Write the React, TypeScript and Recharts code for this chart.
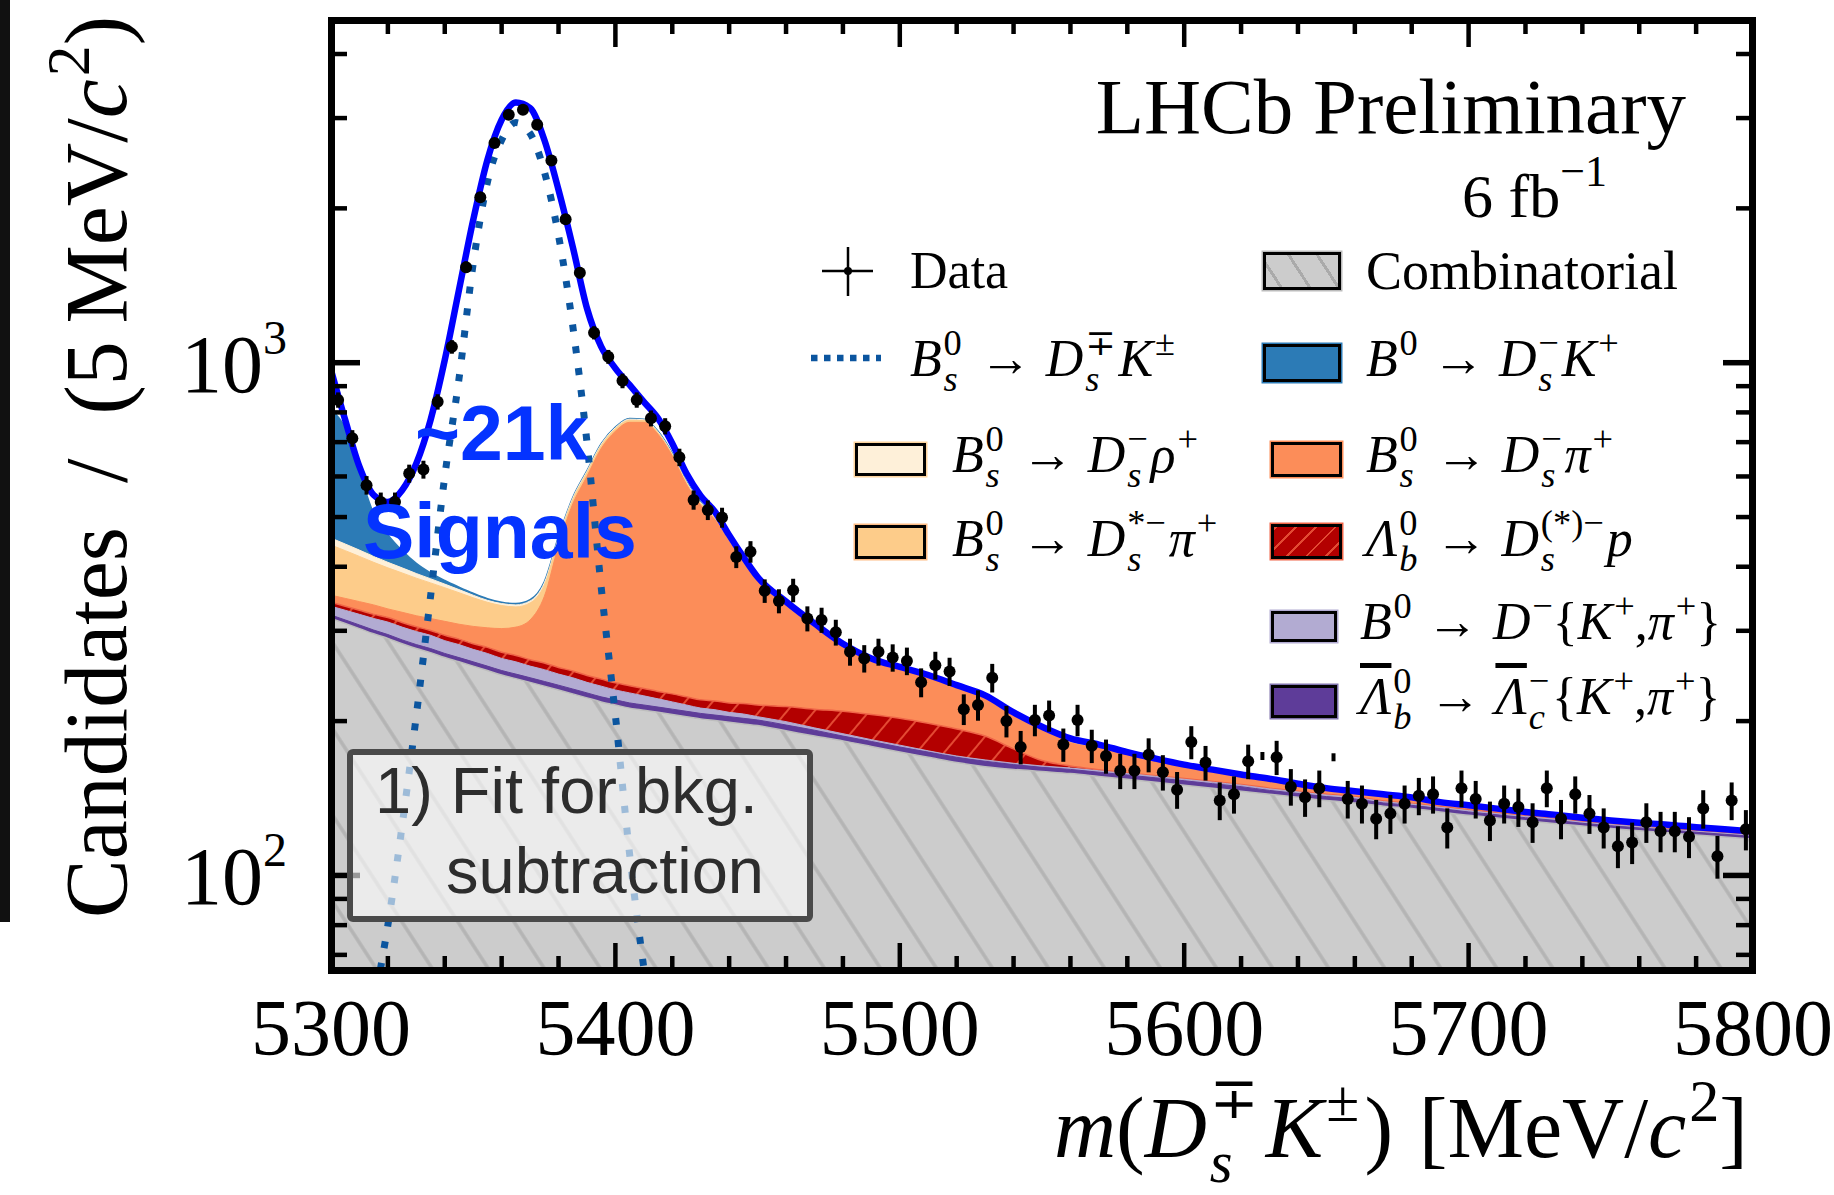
import React from "react";
import { ComposedChart, Area, Line, Scatter, ErrorBar, XAxis, YAxis } from "recharts";

const W = 1834;
const H = 1195;
const PLOT = { left: 331, right: 1752, top: 20, bottom: 970 };
const SERIF = '"Liberation Serif", "DejaVu Serif", serif';
const SANS = '"Liberation Sans", Arial, sans-serif';

// axes
const xMajorTicks = [5300, 5400, 5500, 5600, 5700, 5800];
const xMinorTicks = [5320, 5340, 5360, 5380, 5420, 5440, 5460, 5480, 5520, 5540, 5560, 5580, 5620, 5640, 5660, 5680, 5720, 5740, 5760, 5780];
const yMajorTicks = [100, 1000];
const yMajorExponents = ["2", "3"];
const yMinorTicks = [70, 80, 90, 200, 300, 400, 500, 600, 700, 800, 900, 2000, 3000, 4000];
const yDomain = [65.4, 4660];

// fit model grid (MeV/c^2)
const massGrid = [
  5300, 5305, 5310, 5315, 5320, 5325, 5330, 5335, 5340, 5345, 5350, 5355, 5360, 5365, 5370, 5375,
  5380, 5385, 5390, 5395, 5400, 5405, 5410, 5415, 5420, 5425, 5430, 5435, 5440, 5445, 5450,
  5460, 5470, 5480, 5490, 5500, 5510, 5520, 5530, 5540, 5550, 5560, 5570, 5580, 5590, 5600, 5610,
  5620, 5630, 5640, 5650, 5660, 5670, 5680, 5690, 5700, 5710, 5720, 5730, 5740, 5750, 5760, 5770,
  5780, 5790, 5800,
];

// background components, bottom of the stack first
const combinatorial = [
  317, 310, 303, 296, 290, 283, 277, 272, 266, 261, 256, 251, 246, 242, 238, 234, 230, 226, 222, 218,
  215, 212, 210, 208, 206, 204, 202, 200.5, 199, 197.5, 196,
  191.5, 187, 183, 178.5, 174, 170, 166, 163, 161, 159.5,
  158, 156, 154, 152, 150, 148, 146, 144, 142, 140, 138.5, 136.5, 135, 133, 131, 129.5, 127.8, 126.3,
  124.8, 123.4, 122.2, 121.1, 119.9, 118.8, 117.7,
];
const lbToLcKpi = [
  5, 5, 5, 5, 5, 5, 5, 5, 5, 5, 5, 5, 5, 5, 5, 5, 5, 5, 5, 5, 5, 5, 5, 5, 5, 5, 5, 5, 5, 5, 5,
  5, 5, 4, 4, 4, 4, 4, 4, 3.5, 3,
  3, 3, 3, 3, 3, 3, 3, 2.5, 2.5, 2.5, 2.5, 2, 2, 2, 2, 1.8, 1.8, 1.8, 1.6, 1.6, 1.6, 1.5, 1.5, 1.5, 1.5,
];
const b0ToDKpi = [
  13, 14, 15, 16, 17, 17, 17, 17, 16, 16, 15, 15, 14, 14, 13, 13, 12, 12, 11, 11, 10, 10, 9, 8, 7, 6,
  5, 5, 4, 4, 3,
  3, 2, 2, 1.5, 1.5, 1, 1, 1, 1, 1,
  1, 1, 1, 1, 1, 1, 1, 1, 1, 1, 1, 0.8, 0.8, 0.8, 0.8, 0.7, 0.7, 0.7, 0.6, 0.6, 0.6, 0.5, 0.5, 0.5, 0.5,
];
const lbToDsP = [
  6, 6, 6, 6, 6.5, 6.5, 6.5, 6.5, 7, 7, 7, 7.5, 7.5, 7.5, 7.5, 7.5, 7.5, 7.5, 7.5, 7.5, 7.5, 7.5, 7.5,
  7.5, 8, 8, 8, 8.5, 9, 10, 11,
  14, 17, 20, 22, 23, 23, 22, 19, 11, 4,
  1.5, 0.8, 0.5, 0.5, 0.5, 0.5, 0.5, 0.5, 0.5, 0.5, 0.5, 0.4, 0.4, 0.4, 0.4, 0.3, 0.3, 0.3, 0.3, 0.3,
  0.3, 0.3, 0.3, 0.3, 0.3,
];
const bsToDsPi = [
  11, 12, 13, 14, 12.5, 14.5, 15.5, 16.5, 19, 20, 23, 25.5, 30.5, 36.5, 51.5, 90.5, 185.5, 279.5,
  354.5, 438.5, 497.5, 530.5, 533.5, 496.5, 432, 356, 307, 275, 230, 189.5, 159,
  122, 94, 69.5, 55.5, 49.5, 45.2, 39.5, 35.3, 29.5, 25.7,
  18, 16.5, 13.3, 10.8, 8.3, 6.8, 5.6, 5.2, 3.9, 3.0, 2.5, 3.4, 2.9, 1.9, 1.9, 1.9, 1.6, 1.5, 1.5,
  1.3, 1.2, 1.4, 1.2, 1.1, 1.0,
];
const bsToDsStarPi = [
  89, 83, 77, 71, 67, 63, 59, 55, 51, 47, 42, 37, 33, 29, 25, 18, 12, 10, 10, 9, 8, 7, 6, 5, 4, 4, 4,
  3.5, 3, 2.5, 2,
  2, 2, 1.8, 1.5, 1.2, 1.1, 0.9, 0.7, 0.6, 0.4,
  0.3, 0.3, 0.3, 0.3, 0.3, 0.3, 0.3, 0.3, 0.3, 0.3, 0.3, 0.3, 0.3, 0.3, 0.3, 0.3, 0.3, 0.3, 0.3, 0.3,
  0.3, 0.3, 0.3, 0.3, 0.3,
];
const bsToDsRho = [
  14, 13, 12, 11, 10, 9, 8, 7, 6, 5, 4, 3, 3, 3, 3, 4, 4, 4, 4, 4, 4, 4, 3, 3, 2, 2, 2, 1.5, 1.5, 1.5,
  0.8,
  0.8, 0.8, 0.7, 0.6, 0.5, 0.4, 0.35, 0.3, 0.2, 0.2,
  0.2, 0.2, 0.2, 0.2, 0.2, 0.2, 0.2, 0.2, 0.2, 0.2, 0.2, 0.2, 0.2, 0.2, 0.2, 0.2, 0.2, 0.2, 0.2, 0.2,
  0.2, 0.2, 0.2, 0.2, 0.2,
];
const b0ToDsK = [
  355, 302, 181, 89, 54, 32, 18, 10, 6, 4, 3, 2.5, 2, 2, 2, 2, 2, 2, 2, 2, 2, 2, 2, 2, 2, 1, 1, 1, 1,
  1, 0.5,
  0.5, 0.5, 0.5, 0.4, 0.3, 0.3, 0.25, 0.2, 0.2, 0.2,
  0.2, 0.2, 0.2, 0.2, 0.2, 0.2, 0.2, 0.2, 0.2, 0.2, 0.2, 0.2, 0.2, 0.2, 0.2, 0.2, 0.2, 0.2, 0.2, 0.2,
  0.2, 0.2, 0.2, 0.2, 0.2,
];

// total fit and B_s -> Ds K signal
const fitTotal = [
  968, 773, 627, 552, 535, 564, 636, 773, 1012, 1387, 1898, 2487, 2977, 3217, 3138, 2721, 2173, 1684,
  1277, 1075, 975, 905, 839, 779, 696, 608, 550, 512, 461, 418, 382,
  342, 310, 283, 265, 255, 246, 235, 224.5, 208, 195, 185, 180, 174, 169, 164.5, 160.8, 157.4, 154.4,
  151, 148, 146, 144, 142, 139, 137, 135, 133, 131.4, 129.6, 128, 126.7, 125.6, 124.2, 123, 121.8,
];
const signalBs = [
  25, 32, 42, 56, 80, 125, 205, 350, 600, 930, 1560, 2250, 2720, 2940, 2800, 2360, 1770, 1180, 700,
  365, 205, 110, 66, 44, 30, 22, 16,
];

// data, 5 MeV bins starting at 5300
const dataCounts = [
  846, 712, 577, 535, 535, 608, 619, 839, 1074, 1536, 2103, 2681, 3045, 3114, 2911, 2480, 1905, 1498,
  1144, 1027, 922, 846, 779, 752, 654, 540, 516, 499, 418, 428, 359, 343, 360, 317, 315, 298, 273, 265,
  273, 266, 262, 238, 257, 250, 211, 215, 243, 200, 178, 201, 205, 180, 201, 179, 171, 160, 160, 172,
  159, 147, 182, 166, 140, 144, 167, 171, 170, 149, 142, 148, 170, 141, 138, 129, 132, 138, 143, 144,
  124, 148, 141, 128, 138, 136, 127, 148, 129, 144, 132, 124, 114, 116, 127, 122, 122, 119, 135, 109,
  140, 123,
];
// bins where only a sliver of the error bar is drawn
const partialBins = [5627.5, 5652.5];

const binCenters = dataCounts.map((_, i) => 5302.5 + 5 * i);

const stack = [combinatorial, lbToLcKpi, b0ToDKpi, lbToDsP, bsToDsPi, bsToDsStarPi, bsToDsRho, b0ToDsK];
const modelRows = massGrid.map((m, i) => {
  const row: any = { m, total: fitTotal[i], signal: i < signalBs.length ? signalBs[i] : null };
  let sum = 0;
  stack.forEach((comp, k) => {
    sum += comp[i];
    row["c" + k] = sum;
  });
  return row;
});
const points = binCenters
  .map((m, i) => ({ m, v: dataCounts[i], err: Math.sqrt(dataCounts[i]) }))
  .filter((p) => !partialBins.includes(p.m));
const slivers = binCenters
  .map((m, i) => ({ m, v: dataCounts[i] }))
  .filter((p) => partialBins.includes(p.m));

const layers = [
  { key: "c7", fill: "#2c7bb6", stroke: "#2c7bb6", w: 1.5 },
  { key: "c6", fill: "#fef0d9", stroke: "#fef0d9", w: 1 },
  { key: "c5", fill: "#fdcc8a", stroke: "#fdcc8a", w: 1 },
  { key: "c4", fill: "#fc8d59", stroke: "#fc8d59", w: 1 },
  { key: "c3", fill: "url(#hatchRed)", stroke: "#ef6548", w: 1.5 },
  { key: "c2", fill: "#b2abd2", stroke: "#b2abd2", w: 1 },
  { key: "c1", fill: "#5e3c99", stroke: "#5e3c99", w: 1 },
  { key: "c0", fill: "url(#hatchGrey)", stroke: "#bdbdbd", w: 1.5 },
];

function XTick(props: any) {
  const { x, payload } = props;
  const v = payload.value;
  const major = xMajorTicks.includes(v);
  const len = major ? 27 : 14;
  return (
    <g>
      <line x1={x} x2={x} y1={PLOT.bottom} y2={PLOT.bottom - len} stroke="#000" strokeWidth={4.5} />
      <line x1={x} x2={x} y1={PLOT.top} y2={PLOT.top + len} stroke="#000" strokeWidth={4.5} />
      {major && (
        <text x={x} y={1055} textAnchor="middle" fontSize={80} fontFamily={SERIF} fill="#000">
          {v}
        </text>
      )}
    </g>
  );
}

function YTick(props: any) {
  const { y, payload } = props;
  const v = payload.value;
  const mi = yMajorTicks.indexOf(v);
  const len = mi >= 0 ? 29 : 16;
  const sw = mi >= 0 ? 5.5 : 4.5;
  return (
    <g>
      <line x1={PLOT.left} x2={PLOT.left + len} y1={y} y2={y} stroke="#000" strokeWidth={sw} />
      <line x1={PLOT.right} x2={PLOT.right - len} y1={y} y2={y} stroke="#000" strokeWidth={sw} />
      {mi >= 0 && (
        <text x={181} y={y + 29} fontSize={82} fontFamily={SERIF} fill="#000">
          10
          <tspan dy={-38} fontSize={48}>
            {yMajorExponents[mi]}
          </tspan>
        </text>
      )}
    </g>
  );
}

function It({ children }: any) {
  return <span style={{ fontStyle: "italic" }}>{children}</span>;
}
function Sup({ children }: any) {
  return <span style={{ position: "relative", top: "-0.6em", fontSize: "0.7em", marginLeft: "0.05em" }}>{children}</span>;
}
function SS({ sub, sup, gap = 0.08, drop = 0.6, size = 0.7, lh = 1 }: any) {
  return (
    <span
      style={{
        display: "inline-flex",
        flexDirection: "column",
        height: 0,
        verticalAlign: "baseline",
        position: "relative",
        top: `-${drop}em`,
        fontSize: `${size}em`,
        lineHeight: lh,
        marginLeft: "0.05em",
        marginRight: `${gap}em`,
      }}
    >
      <span>{sup}</span>
      <span style={{ fontStyle: "italic" }}>{sub}</span>
    </span>
  );
}
const Arrow = () => <span style={{ margin: "0 0.28em" }}>→</span>;
const Bar = ({ children }: any) => (
  <span style={{ textDecoration: "overline", fontStyle: "italic" }}>{children}</span>
);

function Label({ x, base, size = 52, children }: any) {
  return (
    <div
      style={{
        position: "absolute",
        left: x,
        top: base - 0.8375 * size,
        fontSize: size,
        lineHeight: 1,
        fontFamily: SERIF,
        whiteSpace: "nowrap",
        color: "#000",
      }}
    >
      {children}
    </div>
  );
}

function Box({ x, y, w, h, bg, edge }: any) {
  return (
    <div
      style={{
        position: "absolute",
        left: x,
        top: y,
        width: w,
        height: h,
        boxSizing: "border-box",
        border: "3px solid #000",
        background: bg,
        boxShadow: `0 0 0 1.5px ${edge}`,
      }}
    />
  );
}

export default function App() {
  return (
    <div style={{ position: "absolute", left: 0, top: 0, width: W, height: H, background: "#fff", overflow: "hidden" }}>
      <ComposedChart
        width={W}
        height={H}
        data={modelRows}
        margin={{ top: PLOT.top, right: W - PLOT.right - 1, bottom: H - PLOT.bottom - 1, left: PLOT.left - 1 }}
      >
        <defs>
          <pattern id="hatchGrey" patternUnits="userSpaceOnUse" width={47} height={47} patternTransform="rotate(-33)">
            <rect width={47} height={47} fill="#cccccc" />
            <line x1={23} y1={0} x2={23} y2={47} stroke="#b4b4b4" strokeWidth={3.5} />
          </pattern>
          <pattern id="hatchRed" patternUnits="userSpaceOnUse" width={21} height={21} patternTransform="rotate(40)">
            <rect width={21} height={21} fill="#b30000" />
            <line x1={10} y1={0} x2={10} y2={21} stroke="#e34a33" strokeWidth={2} />
          </pattern>
        </defs>
        <XAxis
          xAxisId="x"
          dataKey="m"
          type="number"
          domain={[5300, 5800]}
          allowDataOverflow
          ticks={[...xMajorTicks, ...xMinorTicks].sort((a, b) => a - b)}
          interval={0}
          tick={(p: any) => <XTick {...p} />}
          tickLine={false}
          axisLine={false}
          tickSize={0}
          height={1}
        />
        <YAxis
          yAxisId="y"
          type="number"
          scale="log"
          domain={yDomain}
          allowDataOverflow
          ticks={[...yMinorTicks, ...yMajorTicks].sort((a, b) => a - b)}
          interval={0}
          tick={(p: any) => <YTick {...p} />}
          tickLine={false}
          axisLine={false}
          tickSize={0}
          width={1}
        />
        {layers.map((l) => (
          <Area
            key={l.key}
            xAxisId="x"
            yAxisId="y"
            dataKey={l.key}
            type="monotone"
            baseValue="dataMin"
            fill={l.fill}
            fillOpacity={1}
            stroke={l.stroke}
            strokeWidth={l.w}
            dot={false}
            activeDot={false}
            isAnimationActive={false}
          />
        ))}
        <Line
          xAxisId="x"
          yAxisId="y"
          dataKey="signal"
          type="monotone"
          stroke="#0b559f"
          strokeWidth={7}
          strokeDasharray="7 15"
          strokeLinecap="butt"
          dot={false}
          activeDot={false}
          isAnimationActive={false}
        />
        <Line
          xAxisId="x"
          yAxisId="y"
          dataKey="total"
          type="monotone"
          stroke="#0000ff"
          strokeWidth={6.5}
          dot={false}
          activeDot={false}
          isAnimationActive={false}
        />
        <Scatter
          xAxisId="x"
          yAxisId="y"
          data={points}
          dataKey="v"
          isAnimationActive={false}
          shape={(p: any) => <circle cx={p.cx} cy={p.cy} r={6} fill="#000" />}
        >
          <ErrorBar dataKey="err" direction="y" width={0} stroke="#000" strokeWidth={4} />
        </Scatter>
        <Scatter
          xAxisId="x"
          yAxisId="y"
          data={slivers}
          dataKey="v"
          isAnimationActive={false}
          shape={(p: any) => (
            <line x1={p.cx} x2={p.cx} y1={p.cy - 4} y2={p.cy + 4} stroke="#000" strokeWidth={4} />
          )}
        />
      </ComposedChart>

      {/* frame */}
      <div
        style={{
          position: "absolute",
          left: PLOT.left - 3.5,
          top: PLOT.top - 3.5,
          width: PLOT.right - PLOT.left + 7,
          height: PLOT.bottom - PLOT.top + 7,
          border: "7px solid #000",
          boxSizing: "border-box",
        }}
      />

      {/* scanned edge on the far left */}
      <div style={{ position: "absolute", left: 0, top: 0, width: 10, height: 922, background: "#111" }} />

      {/* fit box */}
      <div
        style={{
          position: "absolute",
          left: 347,
          top: 749,
          width: 466,
          height: 173,
          boxSizing: "border-box",
          border: "6.5px solid #4a4a4a",
          borderRadius: 6,
          background: "rgba(255,255,255,0.6)",
        }}
      />

      <svg width={W} height={H} style={{ position: "absolute", left: 0, top: 0, pointerEvents: "none" }}>
        <text x={375} y={813} fontSize={65} fontFamily={SANS} fill="#2d2d2d">
          1) Fit for bkg.
        </text>
        <text x={446} y={893} fontSize={65} fontFamily={SANS} fill="#2d2d2d">
          subtraction
        </text>
        <text x={415} y={460} fontSize={77} fontFamily={SANS} fontWeight="bold" fill="#0433ff">
          ~21k
        </text>
        <text x={363} y={558} fontSize={77} fontFamily={SANS} fontWeight="bold" fill="#0433ff">
          Signals
        </text>
        <text x={1686} y={133} fontSize={79} fontFamily={SERIF} textAnchor="end" fill="#000">
          LHCb Preliminary
        </text>
        <text x={1462} y={217} fontSize={62} fontFamily={SERIF} fill="#000">
          6{"\u2005"}fb
          <tspan dy={-31} fontSize={44}>
            −1
          </tspan>
        </text>
        {/* legend handles */}
        <line x1={848} x2={848} y1={247} y2={296} stroke="#000" strokeWidth={2.5} />
        <line x1={822} x2={873} y1={271} y2={271} stroke="#000" strokeWidth={2.5} />
        <circle cx={848} cy={271} r={4} fill="#000" />
        <line x1={811} x2={881} y1={358} y2={358} stroke="#0b559f" strokeWidth={6.5} strokeDasharray="6.5 6.5" />
      </svg>

      <Box x={1263} y={252} w={78} h={38} edge="#bbbbbb"
        bg="repeating-linear-gradient(57deg, #cccccc 0px, #cccccc 11px, #aaaaaa 11px, #aaaaaa 14px, #cccccc 14px, #cccccc 24px)" />
      <Box x={1263} y={344} w={78} h={38} bg="#2c7bb6" edge="#2c7bb6" />
      <Box x={855} y={443} w={71} h={33} bg="#fef0d9" edge="#fdd49e" />
      <Box x={1271} y={442} w={71} h={35} bg="#fc8d59" edge="#fc8d59" />
      <Box x={855} y={525} w={71} h={34} bg="#fdcc8a" edge="#fdbb84" />
      <Box x={1271} y={524} w={71} h={35} edge="#ef6548"
        bg="repeating-linear-gradient(-45deg, #b30000 0px, #b30000 8px, #e34a33 8px, #e34a33 10px, #b30000 10px, #b30000 14px)" />
      <Box x={1271} y={611} w={66} h={31} bg="#b2abd2" edge="#b2abd2" />
      <Box x={1271} y={685} w={66} h={33} bg="#5e3c99" edge="#8073ac" />

      <Label x={910} base={289}>Data</Label>
      <Label x={1366} base={289} size={54}>Combinatorial</Label>
      <Label x={910} base={377}>
        <It>B</It><SS sub="s" sup="0" /><Arrow /><It>D</It><SS sub="s" sup="∓" /><It>K</It><Sup>±</Sup>
      </Label>
      <Label x={1366} base={377}>
        <It>B</It><Sup>0</Sup><Arrow /><It>D</It><SS sub="s" sup="−" /><It>K</It><Sup>+</Sup>
      </Label>
      <Label x={952} base={473}>
        <It>B</It><SS sub="s" sup="0" /><Arrow /><It>D</It><SS sub="s" sup="−" /><It>ρ</It><Sup>+</Sup>
      </Label>
      <Label x={1366} base={473}>
        <It>B</It><SS sub="s" sup="0" /><Arrow /><It>D</It><SS sub="s" sup="−" /><It>π</It><Sup>+</Sup>
      </Label>
      <Label x={952} base={557}>
        <It>B</It><SS sub="s" sup="0" /><Arrow /><It>D</It><SS sub="s" sup="*−" /><It>π</It><Sup>+</Sup>
      </Label>
      <Label x={1366} base={557}>
        <It>Λ</It><SS sub="b" sup="0" /><Arrow /><It>D</It><SS sub="s" sup="(*)−" /><It>p</It>
      </Label>
      <Label x={1360} base={640}>
        <It>B</It><Sup>0</Sup><Arrow /><It>D</It><Sup>−</Sup>{"{"}<It>K</It><Sup>+</Sup>,<It>π</It><Sup>+</Sup>{"}"}
      </Label>
      <Label x={1360} base={715}>
        <Bar>Λ</Bar><SS sub="b" sup="0" /><Arrow /><Bar>Λ</Bar><SS sub="c" sup="−" />{"{"}<It>K</It><Sup>+</Sup>,<It>π</It><Sup>+</Sup>{"}"}
      </Label>

      {/* axis titles */}
      <div
        style={{
          position: "absolute",
          right: W - 1748,
          top: 1157 - 0.8375 * 86,
          fontSize: 86,
          lineHeight: 1,
          fontFamily: SERIF,
          whiteSpace: "nowrap",
        }}
      >
        <It>m</It>(<It>D</It><SS sub="s" sup="∓" gap={0.12} drop={0.66} size={0.68} lh={1.08} /><It>K</It><Sup>±</Sup>
        <span style={{ marginLeft: "0.06em" }}>)</span>
        <span style={{ marginLeft: "0.3em" }}>[MeV/<It>c</It><Sup>2</Sup>]</span>
      </div>
      <div
        style={{
          position: "absolute",
          left: 0,
          top: 0,
          transformOrigin: "0 0",
          transform: "translate(53px, 918px) rotate(-90deg)",
          fontSize: 88,
          lineHeight: 1,
          fontFamily: SERIF,
          whiteSpace: "nowrap",
        }}
      >
        Candidates{"\u2002"}/{"\u2002"}(5{"\u2009"}MeV/<It>c</It><Sup>2</Sup>)
      </div>
    </div>
  );
}
